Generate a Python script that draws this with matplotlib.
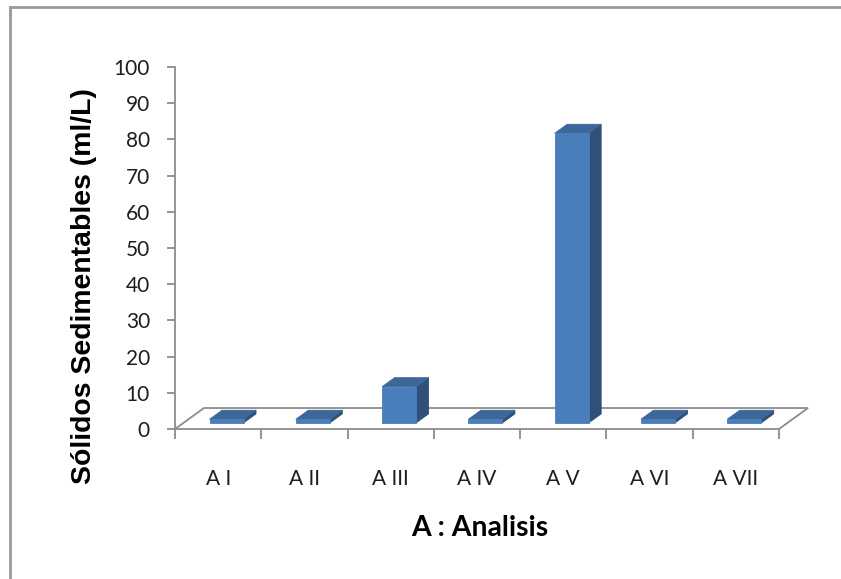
"""Sedimentable solids per analysis, drawn as an Excel-style 3-D column chart."""

import matplotlib

matplotlib.use("Agg")
import matplotlib.pyplot as plt
from matplotlib.lines import Line2D
from matplotlib.patches import Polygon

CATEGORIES = ["A I", "A II", "A III", "A IV", "A V", "A VI", "A VII"]
SOLIDS_ML_L = [1, 1, 10, 1, 80, 1, 1]
Y_TICKS = list(range(0, 101, 10))

FRONT = "#4A7EBB"
TOP = "#3D6699"
SIDE = "#2F5078"
GRID_GRAY = "#8C8C8C"
TEXT = "#1E1E1E"

# oblique depth of the floor, in data units (x: categories, y: ml/L)
DEPTH_X, DEPTH_Y = 0.336, 5.8
BAR_D0, BAR_D1 = 0.29, 0.72   # bar front/back as a fraction of floor depth
BAR_W = 0.394


def main():
    fig = plt.figure(figsize=(8.41, 5.79), dpi=100)
    ax = fig.add_axes([175 / 841, 150 / 579, 604 / 841, 362 / 579])
    ax.set_xlim(0, len(CATEGORIES))
    ax.set_ylim(0, 100)

    # floor
    n = len(CATEGORIES)
    floor = Polygon(
        [(0, 0), (n, 0), (n + DEPTH_X, DEPTH_Y), (DEPTH_X, DEPTH_Y)],
        closed=True, facecolor="white", edgecolor=GRID_GRAY, lw=1.3, clip_on=False,
    )
    ax.add_patch(floor)

    fx, fy = BAR_D0 * DEPTH_X, BAR_D0 * DEPTH_Y
    ddx, ddy = (BAR_D1 - BAR_D0) * DEPTH_X, (BAR_D1 - BAR_D0) * DEPTH_Y
    for i, v in enumerate(SOLIDS_ML_L):
        xl = i + 0.5 + fx - BAR_W / 2
        xr = xl + BAR_W
        yb, yt = fy, fy + v
        side = [(xr, yb), (xr + ddx, yb + ddy), (xr + ddx, yt + ddy), (xr, yt)]
        top = [(xl, yt), (xr, yt), (xr + ddx, yt + ddy), (xl + ddx, yt + ddy)]
        front = [(xl, yb), (xr, yb), (xr, yt), (xl, yt)]
        for pts, c in ((side, SIDE), (top, TOP), (front, FRONT)):
            ax.add_patch(Polygon(pts, closed=True, facecolor=c, edgecolor=c,
                                 lw=0.6, clip_on=False, zorder=3))

    for s in ("top", "right", "bottom"):
        ax.spines[s].set_visible(False)
    ax.spines["left"].set_color(GRID_GRAY)
    ax.spines["left"].set_linewidth(1.3)

    ax.set_yticks(Y_TICKS)
    ax.tick_params(axis="y", length=6, width=1.3, color=GRID_GRAY, pad=12,
                   labelsize=15, labelcolor=TEXT)
    for lab in ax.get_yticklabels():
        lab.set_fontfamily("Lato")

    ax.set_xticks(range(n + 1))
    ax.set_xticklabels([])
    ax.tick_params(axis="x", which="major", length=7, width=1.3, color=GRID_GRAY)
    ax.set_xticks([i + 0.5 for i in range(n)], minor=True)
    ax.set_xticklabels(CATEGORIES, minor=True, fontsize=15, color=TEXT,
                       fontfamily="Lato")
    ax.tick_params(axis="x", which="minor", length=0, pad=29)

    fig.text(84 / 841, 1 - 286 / 579, "Sólidos Sedimentables (ml/L)",
             rotation=90, ha="center", va="center", fontsize=20.4,
             fontweight="bold", fontfamily="Liberation Sans", color="black")
    fig.text(480 / 841, 1 - 528 / 579, "A : Analisis", ha="center", va="center",
             fontsize=20.4, fontweight="bold", fontfamily="Lato", color="black")

    # chart-area frame (only the top and left edges fall inside the image)
    fig.add_artist(Line2D([10 / 841, 10 / 841], [0, 1 - 7 / 579],
                          color="#999999", lw=2))
    fig.add_artist(Line2D([10 / 841, 1], [1 - 7 / 579, 1 - 7 / 579],
                          color="#999999", lw=2))

    fig.savefig("out.png", dpi=100)
    plt.close(fig)


if __name__ == "__main__":
    main()
